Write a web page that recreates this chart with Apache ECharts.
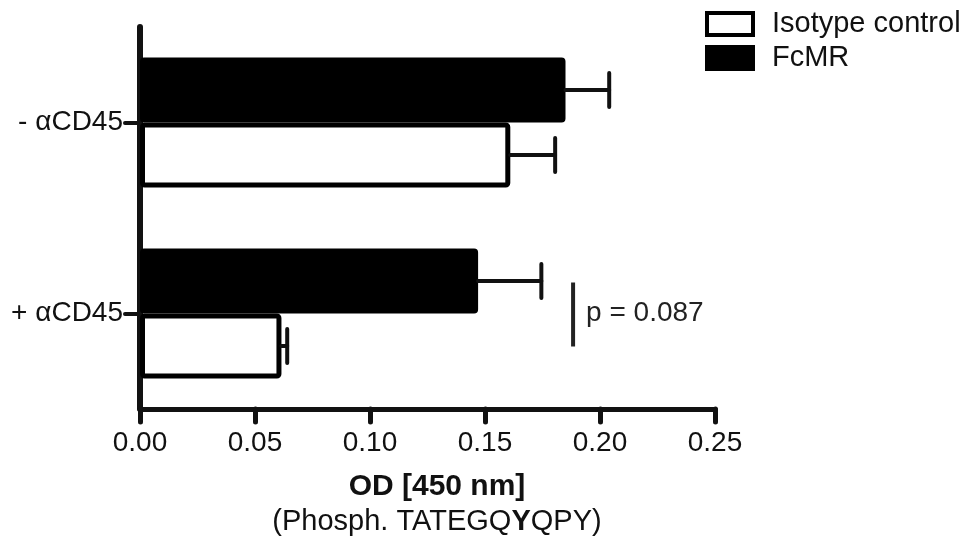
<!DOCTYPE html>
<html>
<head>
<meta charset="utf-8">
<script src="https://cdn.jsdelivr.net/npm/echarts@6/dist/echarts.min.js"></script>
<style>html,body{margin:0;padding:0;background:#fff}#c{width:976px;height:543px}</style>
</head>
<body>
<div id="c"></div>
<script>
const categories = ['- αCD45', '+ αCD45'];
const fcmrValues = [0.185, 0.147];
const fcmrErrors = [0.019, 0.0275];
const isotypeValues = [0.161, 0.0615];
const isotypeErrors = [0.0195, 0.0025];
const xTicks = [0, 0.05, 0.10, 0.15, 0.20, 0.25];
const pAnnotation = { label: 'p = 0.087', x: 0.1883, category: 1 };

const FONT = "'Liberation Sans', Arial, Helvetica, sans-serif";
const INK = '#111';
const BAR_W = 65;

const chart = echarts.init(document.getElementById('c'), null, { renderer: 'canvas' });

const errData = [];
fcmrValues.forEach((v, i) => errData.push([v, i, fcmrErrors[i], -1]));
isotypeValues.forEach((v, i) => errData.push([v, i, isotypeErrors[i], 1]));

chart.setOption({
  animation: false,
  backgroundColor: '#fff',
  grid: { left: 140, right: 261, top: 27, bottom: 134, containLabel: false },
  legend: {
    data: ['Isotype control', 'FcMR'],
    orient: 'vertical',
    left: 705,
    top: 9,
    padding: 0,
    itemWidth: 46,
    itemHeight: 22,
    itemGap: 4,
    icon: 'rect',
    itemStyle: { borderColor: '#000', borderWidth: 4 },
    textStyle: { fontFamily: FONT, fontSize: 29, lineHeight: 30, color: INK, padding: [0, 0, 0, 14] },
    selectedMode: false
  },
  xAxis: {
    type: 'value',
    min: xTicks[0],
    max: xTicks[xTicks.length - 1],
    interval: 0.05,
    splitLine: { show: false },
    axisLine: { show: true, lineStyle: { color: INK, width: 5, cap: 'round' } },
    axisTick: { show: true, length: 13, lineStyle: { color: INK, width: 5, cap: 'round' } },
    axisLabel: {
      margin: 20, fontFamily: FONT, fontSize: 28, color: INK,
      formatter: v => v.toFixed(2)
    },
    name: '{b|OD [450 nm]}\n{n|(Phosph. TATEGQ}{y|Y}{n|QPY)}',
    nameLocation: 'middle',
    nameGap: 60,
    nameTextStyle: {
      padding: [0, 0, 0, 19],
      rich: {
        b: { fontFamily: FONT, fontSize: 30, fontWeight: 'bold', color: INK, lineHeight: 35 },
        n: { fontFamily: FONT, fontSize: 29, color: INK, lineHeight: 35 },
        y: { fontFamily: FONT, fontSize: 29, fontWeight: 'bold', color: INK, lineHeight: 35 }
      }
    }
  },
  yAxis: {
    type: 'category',
    data: categories,
    inverse: true,
    axisLine: { show: true, lineStyle: { color: INK, width: 6 } },
    axisTick: { show: true, alignWithLabel: true, length: 15, lineStyle: { color: INK, width: 4, cap: 'round' } },
    axisLabel: { margin: 17, fontFamily: FONT, fontSize: 28, color: INK }
  },
  series: [
    {
      name: 'FcMR',
      type: 'bar',
      data: fcmrValues,
      barWidth: BAR_W,
      barGap: '0%',
      itemStyle: { color: '#000', borderColor: '#000', borderWidth: 4, borderRadius: 2 },
      z: 3
    },
    {
      name: 'Isotype control',
      type: 'bar',
      data: isotypeValues,
      barWidth: BAR_W,
      barGap: '0%',
      itemStyle: { color: '#fff', borderColor: '#000', borderWidth: 5, borderRadius: 2 },
      z: 2
    },
    {
      name: 'err',
      type: 'custom',
      data: errData,
      encode: { x: 0, y: 1 },
      z: 4,
      renderItem: function (params, api) {
        const v = api.value(0), c = api.value(1), e = api.value(2), side = api.value(3);
        const p0 = api.coord([v, c]);
        const p1 = api.coord([v + e, c]);
        const y = p0[1] + side * BAR_W / 2;
        const style = { stroke: INK, lineWidth: 4, lineCap: 'round' };
        return {
          type: 'group',
          children: [
            { type: 'line', shape: { x1: p0[0], y1: y, x2: p1[0], y2: y }, style: style },
            { type: 'line', shape: { x1: p1[0], y1: y - 17, x2: p1[0], y2: y + 17 }, style: style }
          ]
        };
      }
    },
    {
      name: 'pval',
      type: 'custom',
      data: [[pAnnotation.x, pAnnotation.category]],
      encode: { x: 0, y: 1 },
      z: 4,
      renderItem: function (params, api) {
        const p = api.coord([api.value(0), api.value(1)]);
        return {
          type: 'group',
          children: [
            { type: 'line', shape: { x1: p[0], y1: p[1] - 31, x2: p[0], y2: p[1] + 33 },
              style: { stroke: '#222', lineWidth: 4 } },
            { type: 'text', x: p[0] + 13, y: p[1],
              style: { text: pAnnotation.label, fontFamily: FONT, fontSize: 28, fill: '#222',
                       textAlign: 'left', textVerticalAlign: 'middle' } }
          ]
        };
      }
    }
  ]
});
</script>
</body>
</html>
